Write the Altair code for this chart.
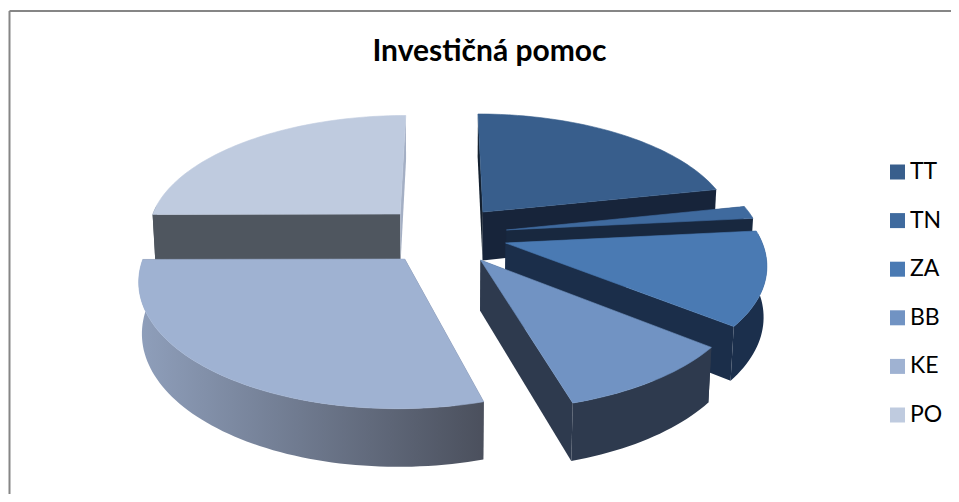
import math
import altair as alt
import pandas as pd

# ---- chart values ----
categories = ["TT", "TN", "ZA", "BB", "KE", "PO"]
shares = [21.7, 1.7, 12.3, 9.8, 29.45, 25.05]

# ---- styles ----
top_colors = ["#385E8C", "#3F6A9E", "#4A7AB3", "#7193C3", "#9FB2D2", "#BFCBDF"]
start_wall = ["#14202F", "#18283F", "#1B2E4A", "#2E3A4E", "#4B505D", "#4F565F"]
end_wall = ["#17243A", "#18283F", "#1B2E4A", "#2E3A4E", "#4B505D", "#A4AFC4"]
arc_color = ["#17243A", "#18283F", "#1B2F4C", "#2E3A4E", "#4B505D", "#4F565F"]

# ---- 3D view of the exploded pie ----
CX, CY, FX, FY, HZ = 444, 235.5, 254, 119, 50
K, M, EXPLODE = 0.15, 0.01, 0.25


def project(x3, y3, z3):
    s = 1 / (1 + K * y3 - M * z3)
    return CX + FX * x3 * s, CY - FY * y3 * s - HZ * z3 * s


total = sum(shares)
walls, arcs, tops = [], [], []
pid = 0


def add(rows, pts3, color, name):
    global pid
    pid += 1
    for i, p in enumerate(pts3 + pts3[:1]):
        px, py = project(*p)
        rows.append(dict(layer=name, poly=f"{pid:04d}", i=i, x=px, y=py, c=color))


spans = []
acc = 0.0
for v in shares:
    spans.append((acc / total * 2 * math.pi, (acc + v) / total * 2 * math.pi))
    acc += v

for idx, (cat, (a0, a1)) in enumerate(zip(categories, spans)):
    mid = (a0 + a1) / 2
    ox, oy = EXPLODE * math.sin(mid), EXPLODE * math.cos(mid)
    steps = max(3, int((a1 - a0) / math.radians(1.5)))
    angles = [a0 + (a1 - a0) * j / steps for j in range(steps + 1)]
    rim = [(ox + math.sin(t), oy + math.cos(t)) for t in angles]
    add(walls, [(ox, oy, 0), (*rim[0], 0), (*rim[0], -1), (ox, oy, -1)], start_wall[idx], cat)
    add(walls, [(ox, oy, 0), (*rim[-1], 0), (*rim[-1], -1), (ox, oy, -1)], end_wall[idx], cat)
    front = [r for r, t in zip(rim, angles) if math.cos(t) <= 0.1]
    if len(front) > 1:
        add(arcs, [(*r, 0) for r in front] + [(*r, -1) for r in reversed(front)], arc_color[idx], cat)
    add(tops, [(ox, oy, 0)] + [(*r, 0) for r in rim], top_colors[idx], cat)

df_w = pd.DataFrame(walls)
df_a = pd.DataFrame(arcs)
df_t = pd.DataFrame(tops)

# plot area is placed so the scale domain equals page pixels
X = alt.X("x:Q", scale=alt.Scale(domain=[9, 951], nice=False, zero=False),
          axis=alt.Axis(orient="top", domain=True, domainColor="#868686", domainWidth=2,
                        ticks=False, labels=False, grid=False, title=None))
Y = alt.Y("y:Q", scale=alt.Scale(domain=[495, 11.5], nice=False, zero=False),
          axis=alt.Axis(orient="left", domain=True, domainColor="#868686", domainWidth=2,
                        ticks=False, labels=False, grid=False, title=None))

fill_scale = alt.Scale(domain=categories, range=top_colors)
legend = alt.Legend(title=None, orient="none", legendX=877, legendY=150, symbolType="square",
                    symbolSize=225, symbolStrokeWidth=0, labelFont="Lato", labelFontSize=23,
                    labelColor="#000000", rowPadding=24.6, labelOffset=1, labelLimit=80)

ke_gradient = alt.LinearGradient(
    gradient="linear", x1=0, x2=1, y1=0, y2=0,
    stops=[alt.GradientStop(offset=0, color="#8F9FBB"), alt.GradientStop(offset=1, color="#4B505D")],
)

layers = []
for cat in ["PO", "TT", "TN", "ZA", "BB", "KE"]:
    layers.append(
        alt.Chart(df_w[df_w.layer == cat]).mark_line(strokeWidth=0, interpolate="linear").encode(
            x=X, y=Y, order=alt.Order("i:Q"), detail="poly:N",
            fill=alt.Fill("c:N", scale=None))
    )
    sub = df_a[df_a.layer == cat]
    if len(sub):
        if cat == "KE":
            layers.append(
                alt.Chart(sub).mark_line(strokeWidth=0, interpolate="linear", fill=ke_gradient).encode(
                    x=X, y=Y, order=alt.Order("i:Q"), detail="poly:N")
            )
        else:
            layers.append(
                alt.Chart(sub).mark_line(strokeWidth=0, interpolate="linear").encode(
                    x=X, y=Y, order=alt.Order("i:Q"), detail="poly:N",
                    fill=alt.Fill("c:N", scale=None))
            )
    layers.append(
        alt.Chart(df_t[df_t.layer == cat]).mark_line(strokeWidth=0.6, interpolate="linear").encode(
            x=X, y=Y, order=alt.Order("i:Q"), detail="poly:N",
            fill=alt.Fill("layer:N", scale=fill_scale, sort=categories, legend=legend),
            stroke=alt.Stroke("layer:N", scale=fill_scale, sort=categories, legend=None))
    )

chart = alt.layer(*layers).properties(
    width=942, height=483.5,
    padding={"left": 1, "top": 2.5, "right": 0, "bottom": 0},
    autosize=alt.AutoSizeParams(type="none"),
    title=alt.Title("Investičná pomoc", font="Lato", fontSize=30, fontWeight="bold", color="#000000",
                    anchor="middle", dx=9.5, offset=-56),
).configure_view(stroke=None).configure(background="#FFFFFF")

chart.save("out.html", embed_options={"renderer": "svg", "actions": False})
